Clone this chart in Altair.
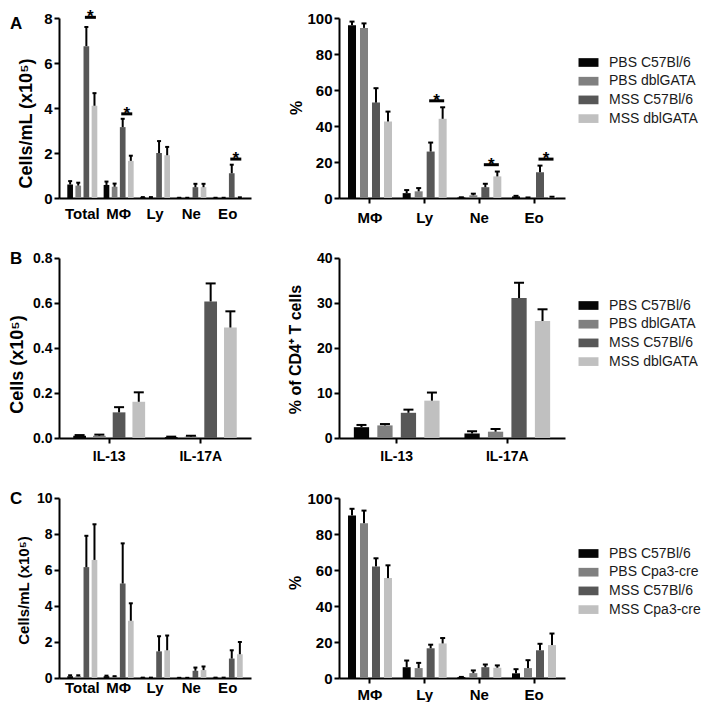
import altair as alt
import pandas as pd

FONT = "Liberation Sans"

GROUPS_AB = ["PBS C57Bl/6", "PBS dblGATA", "MSS C57Bl/6", "MSS dblGATA"]
GROUPS_C = ["PBS C57Bl/6", "PBS Cpa3-cre", "MSS C57Bl/6", "MSS Cpa3-cre"]
BAR_COLORS = ["#050505", "#808080", "#575757", "#c0c0c0"]

CELLS_ALL = ["Total", "MΦ", "Ly", "Ne", "Eo"]
CELLS_PCT = ["MΦ", "Ly", "Ne", "Eo"]
CYTOKINES = ["IL-13", "IL-17A"]

# rows = groups (in legend order), columns = categories
A1_MEAN = [[0.60, 0.58, 0.03, 0.01, 0.01],
           [0.55, 0.50, 0.03, 0.01, 0.01],
           [6.75, 3.15, 2.00, 0.48, 1.10],
           [4.10, 1.65, 1.90, 0.48, 0.02]]
A1_SEM = [[0.15, 0.15, 0.01, 0.00, 0.00],
          [0.13, 0.14, 0.01, 0.00, 0.00],
          [0.85, 0.37, 0.53, 0.15, 0.38],
          [0.56, 0.23, 0.37, 0.15, 0.01]]
A1_SIG_CAT = ["Total", "MΦ", "Eo"]
A1_SIG_Y = [8.03, 3.74, 1.73]

A2_MEAN = [[96.0, 2.7, 0.3, 0.9],
           [94.5, 3.7, 1.5, 0.2],
           [53.0, 25.8, 6.0, 14.3],
           [42.5, 44.0, 12.0, 0.5]]
A2_SEM = [[2.0, 1.7, 0.1, 0.3],
          [2.5, 1.8, 0.9, 0.1],
          [8.0, 5.0, 1.9, 3.7],
          [5.5, 6.4, 2.7, 0.2]]
A2_SIG_CAT = ["Ly", "Ne", "Eo"]
A2_SIG_Y = [54.0, 18.5, 21.6]

B1_MEAN = [[0.010, 0.004],
           [0.010, 0.006],
           [0.114, 0.607],
           [0.161, 0.491]]
B1_SEM = [[0.003, 0.002],
          [0.005, 0.004],
          [0.023, 0.080],
          [0.042, 0.072]]

B2_MEAN = [[2.4, 1.0],
           [2.8, 1.4],
           [5.6, 31.1],
           [8.3, 26.0]]
B2_SEM = [[0.5, 0.5],
          [0.3, 0.6],
          [0.7, 3.4],
          [1.8, 2.6]]

C1_MEAN = [[0.10, 0.10, 0.02, 0.01, 0.02],
           [0.10, 0.08, 0.02, 0.01, 0.02],
           [6.16, 5.25, 1.48, 0.40, 1.08],
           [6.56, 3.18, 1.54, 0.44, 1.32]]
C1_SEM = [[0.05, 0.03, 0.00, 0.00, 0.00],
          [0.05, 0.02, 0.00, 0.00, 0.00],
          [1.74, 2.23, 0.84, 0.18, 0.46],
          [1.98, 0.97, 0.82, 0.20, 0.68]]

C2_MEAN = [[90.3, 6.0, 0.5, 2.6],
           [86.0, 5.5, 2.7, 5.5],
           [62.0, 16.5, 6.0, 15.4],
           [55.5, 19.2, 5.7, 18.3]]
C2_SEM = [[3.7, 3.7, 0.1, 2.3],
          [7.0, 2.9, 1.5, 4.4],
          [4.5, 2.0, 1.5, 3.6],
          [7.1, 3.0, 1.3, 6.4]]

RECT = "M-1.08,-0.47H1.08V0.47H-1.08Z"
H = 180


def panel(cats, groups, mean, sem, width, po, pi2, po2, ymax, yvals, yfmt,
          ytitle, ytitle_size, ytitle_x, ytitle_y, ylabel_size,
          xlabel_size, xticks, xlabel_pad, cap,
          legend_y=None, sig_cat=None, sig_y=None, sig_w=0, sig_off=0,
          letter=None, letter_y=0):
    rows = []
    for gi, g in enumerate(groups):
        for ci, c in enumerate(cats):
            m = mean[gi][ci]
            rows.append({"cat": c, "grp": g, "mean": m, "upper": m + sem[gi][ci]})
    df = pd.DataFrame(rows)

    xaxis = alt.Axis(labelAngle=0, labelFontSize=xlabel_size,
                     labelPadding=xlabel_pad, ticks=xticks, tickSize=5,
                     labelOverlap=False)
    x_main = alt.X("cat:N", sort=cats, title=None,
                   scale=alt.Scale(domain=cats, paddingInner=0, paddingOuter=po),
                   axis=xaxis)
    x_plain = alt.X("cat:N", sort=cats, title=None, axis=xaxis)
    xo_main = alt.XOffset("grp:N", sort=groups,
                          scale=alt.Scale(domain=groups, paddingInner=pi2, paddingOuter=po2))
    xo_plain = alt.XOffset("grp:N", sort=groups)
    yaxis = alt.Axis(values=yvals, format=yfmt, titleFontSize=ytitle_size,
                     titleX=ytitle_x, titleY=ytitle_y, titleAngle=270,
                     titleBaseline="middle", titleAlign="center",
                     labelFontSize=ylabel_size, tickSize=5, labelPadding=2,
                     labelOverlap=False, labelFlush=False, labelSeparation=0)
    yscale = alt.Scale(domain=[0, ymax], nice=False, zero=True)
    y_main = alt.Y("mean:Q", title=ytitle, scale=yscale, axis=yaxis)
    if legend_y is not None:
        leg = alt.Legend(title=None, orient="none", legendX=240, legendY=legend_y,
                         symbolType=RECT, symbolSize=342, symbolStrokeWidth=0,
                         symbolOpacity=1,
                         labelFontSize=14, labelFont=FONT, labelColor="#1a1a1a",
                         labelFontWeight="normal", labelOffset=11, rowPadding=1.7, padding=0)
    else:
        leg = None
    color = alt.Color("grp:N", sort=groups,
                      scale=alt.Scale(domain=groups, range=BAR_COLORS), legend=leg)

    base = alt.Chart(df)
    bars = base.mark_bar(opacity=1).encode(x=x_main, xOffset=xo_main, y=y_main, color=color)
    errs = base.mark_rule(color="black", strokeWidth=2, opacity=1).encode(
        x=x_plain, xOffset=xo_plain, y=alt.Y("mean:Q", title=ytitle, axis=yaxis), y2="upper:Q")
    caps = base.mark_tick(color="black", thickness=2, size=cap, opacity=1).encode(
        x=x_plain, xOffset=xo_plain, y=alt.Y("upper:Q", title=ytitle, axis=yaxis))
    layers = [bars, errs, caps]

    if sig_cat is not None:
        sdf = pd.DataFrame({"cat": sig_cat, "y": sig_y})
        sb = alt.Chart(sdf)
        layers.append(sb.mark_tick(color="black", thickness=3, size=sig_w, xOffset=sig_off,
                                   opacity=1).encode(
            x=x_plain, y=alt.Y("y:Q", title=ytitle, axis=yaxis)))
        layers.append(sb.mark_text(text="*", fontSize=17, fontWeight="bold", font=FONT,
                                   color="black", xOffset=sig_off, dy=5,
                                   baseline="alphabetic").encode(
            x=x_plain, y=alt.Y("y:Q", title=ytitle, axis=yaxis)))
    if letter is not None:
        ldf = pd.DataFrame({"t": [letter]})
        layers.append(alt.Chart(ldf).mark_text(align="left", baseline="alphabetic",
                                               fontSize=17, fontWeight="bold", font=FONT,
                                               color="black").encode(
            text="t:N", x=alt.value(-49), y=alt.value(letter_y)))
    return alt.layer(*layers).properties(width=width, height=H)


a1 = panel(CELLS_ALL, GROUPS_AB, A1_MEAN, A1_SEM, 192, 0.141, 0.3, 0.39, 8, [0, 2, 4, 6, 8], "d",
           "Cells/mL (x10⁵)", 18, -32.5, 105, 15, 15, False, 8, 4,
           sig_cat=A1_SIG_CAT, sig_y=A1_SIG_Y, sig_w=11, sig_off=8.1, letter="A", letter_y=11)
a2 = panel(CELLS_PCT, GROUPS_AB, A2_MEAN, A2_SEM, 226, 0.067, 0.333, 0.446, 100,
           [0, 20, 40, 60, 80, 100], "d",
           "%", 16, -43, 89.5, 15, 15, True, 7, 5, legend_y=35,
           sig_cat=A2_SIG_CAT, sig_y=A2_SIG_Y, sig_w=15, sig_off=12)
b1 = panel(CYTOKINES, GROUPS_AB, B1_MEAN, B1_SEM, 192, 0.048, 0.355, 0.5, 0.8,
           [0, 0.2, 0.4, 0.6, 0.8], ".1f",
           "Cells (x10⁵)", 18, -42, 106, 14, 14, True, 6, 10, letter="B", letter_y=6)
b2 = panel(CYTOKINES, GROUPS_AB, B2_MEAN, B2_SEM, 226, 0.0217, 0.35, 0.53, 40,
           [0, 10, 20, 30, 40], "d",
           "% of CD4⁺ T cells", 16, -43.5, 91, 14, 14, True, 6, 10, legend_y=38)
c1 = panel(CELLS_ALL, GROUPS_C, C1_MEAN, C1_SEM, 192, 0.141, 0.3, 0.39, 10,
           [0, 2, 4, 6, 8, 10], "d",
           "Cells/mL (x10⁵)", 15, -36, 92, 14, 15, False, 2, 4, letter="C", letter_y=6)
c2 = panel(CELLS_PCT, GROUPS_C, C2_MEAN, C2_SEM, 226, 0.067, 0.333, 0.446, 100,
           [0, 20, 40, 60, 80, 100], "d",
           "%", 16, -43.5, 84.5, 15, 15, True, 4, 5, legend_y=46)

chart = alt.concat(
    a1, a2, b1, b2, c1, c2, columns=2, bounds="flush",
    spacing={"row": 60, "column": 88}
).resolve_scale(
    x="independent", y="independent", color="independent", xOffset="independent"
).resolve_legend(color="independent").properties(padding=0).configure_view(
    stroke=None
).configure_axis(
    domainColor="black", domainWidth=2, tickColor="black", tickWidth=2,
    labelColor="black", labelFont=FONT, labelFontWeight="bold",
    titleColor="black", titleFont=FONT, titleFontWeight="bold", grid=False,
    labelOverlap=False
)

chart.save("out.html", embed_options={"renderer": "svg", "actions": False})
